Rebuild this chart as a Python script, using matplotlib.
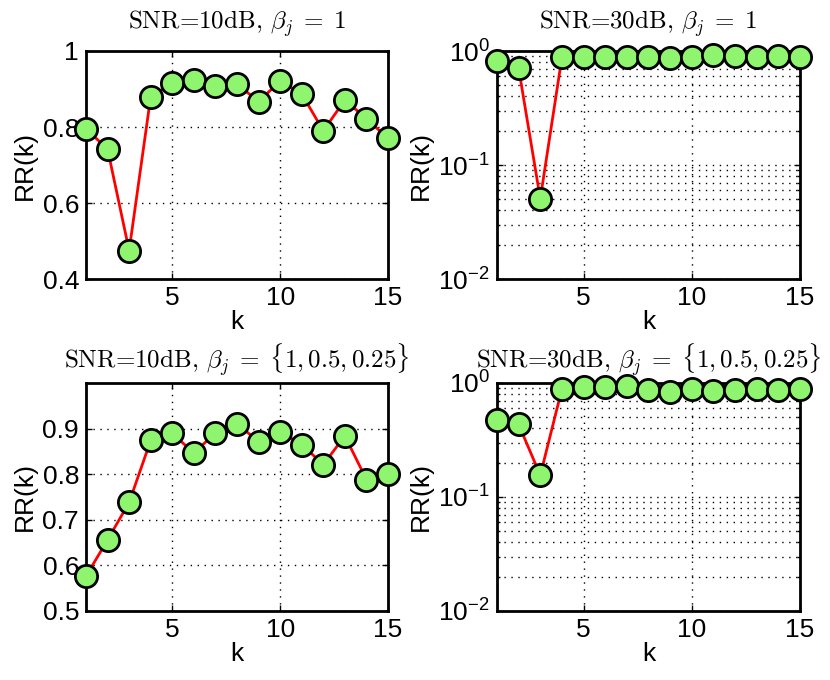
import matplotlib
matplotlib.use('Agg')
import matplotlib.pyplot as plt
from matplotlib.ticker import LogLocator, NullFormatter

k = list(range(1, 16))

rr_10db_eq = [0.795, 0.742, 0.475, 0.880, 0.915, 0.924, 0.908, 0.913,
              0.867, 0.921, 0.887, 0.790, 0.871, 0.822, 0.770]
rr_30db_eq = [0.812, 0.705, 0.0506, 0.880, 0.892, 0.892, 0.892, 0.892,
              0.863, 0.892, 0.923, 0.904, 0.892, 0.904, 0.892]
rr_10db_var = [0.576, 0.656, 0.738, 0.874, 0.890, 0.846, 0.891, 0.911,
               0.871, 0.893, 0.865, 0.821, 0.884, 0.788, 0.801]
rr_30db_var = [0.476, 0.433, 0.155, 0.886, 0.922, 0.922, 0.935, 0.862,
               0.839, 0.886, 0.856, 0.874, 0.886, 0.874, 0.886]

titres = [r'SNR=10dB, $\beta_j \;=\; 1$',
          r'SNR=30dB, $\beta_j \;=\; 1$',
          r'SNR=10dB, $\beta_j \;=\; \{1, 0.5, 0.25\}$',
          r'SNR=30dB, $\beta_j \;=\; \{1, 0.5, 0.25\}$']

plt.rcParams['font.family'] = ['Liberation Sans', 'DejaVu Sans']
plt.rcParams['font.size'] = 19
plt.rcParams['axes.unicode_minus'] = True

fig = plt.figure(figsize=(8.3, 6.8), dpi=100)
positions = [[0.1036, 0.5897, 0.3639, 0.3353],
             [0.5988, 0.5897, 0.3650, 0.3353],
             [0.1036, 0.1015, 0.3639, 0.3353],
             [0.5988, 0.1015, 0.3650, 0.3353]]
series = [rr_10db_eq, rr_30db_eq, rr_10db_var, rr_30db_var]
log_axes = [False, True, False, True]
pointille = (0, (1, 4))

for i, (pos, y, titre, est_log) in enumerate(zip(positions, series, titres, log_axes)):
    ax = fig.add_axes(pos)
    ax.plot(k, y, color='red', linewidth=2, marker='o', markersize=16,
            markerfacecolor='#8ff56f', markeredgecolor='black',
            markeredgewidth=2, clip_on=False, zorder=5)
    ax.set_xlim(1, 15)
    ax.set_xticks([5, 10, 15])
    if est_log:
        ax.set_yscale('log')
        ax.set_ylim(1e-2, 1)
        ax.yaxis.set_major_locator(LogLocator(base=10, numticks=5))
        ax.yaxis.set_minor_locator(LogLocator(base=10, subs=range(2, 10), numticks=10))
        ax.yaxis.set_minor_formatter(NullFormatter())
        ax.grid(True, which='both', axis='y', color='black', linestyle=pointille, linewidth=1)
        ax.grid(True, which='major', axis='x', color='black', linestyle=pointille, linewidth=1)
    else:
        if i == 2:
            ax.set_ylim(0.5, 1.0)
            ax.set_yticks([0.5, 0.6, 0.7, 0.8, 0.9])
            ax.set_yticklabels(['0.5', '0.6', '0.7', '0.8', '0.9'])
        else:
            ax.set_ylim(0.4, 1.0)
            ax.set_yticks([0.4, 0.6, 0.8, 1.0])
            ax.set_yticklabels(['0.4', '0.6', '0.8', '1'])
        ax.grid(True, color='black', linestyle=pointille, linewidth=1)
    ax.set_axisbelow(True)
    for s in ax.spines.values():
        s.set_linewidth(2)
    ax.tick_params(direction='in', which='both', length=4, width=1, labelsize=19,
                   top=True, right=True, pad=5)
    ax.tick_params(which='minor', length=2)
    ax.set_xlabel('k', fontsize=19, labelpad=0)
    ax.set_ylabel('RR(k)', fontsize=19, labelpad=4)
    ax.set_title(titre, fontsize=18, family='cmr10', math_fontfamily='cm',
                 pad=16 if i < 2 else 10)

fig.savefig('out.png', dpi=100)
